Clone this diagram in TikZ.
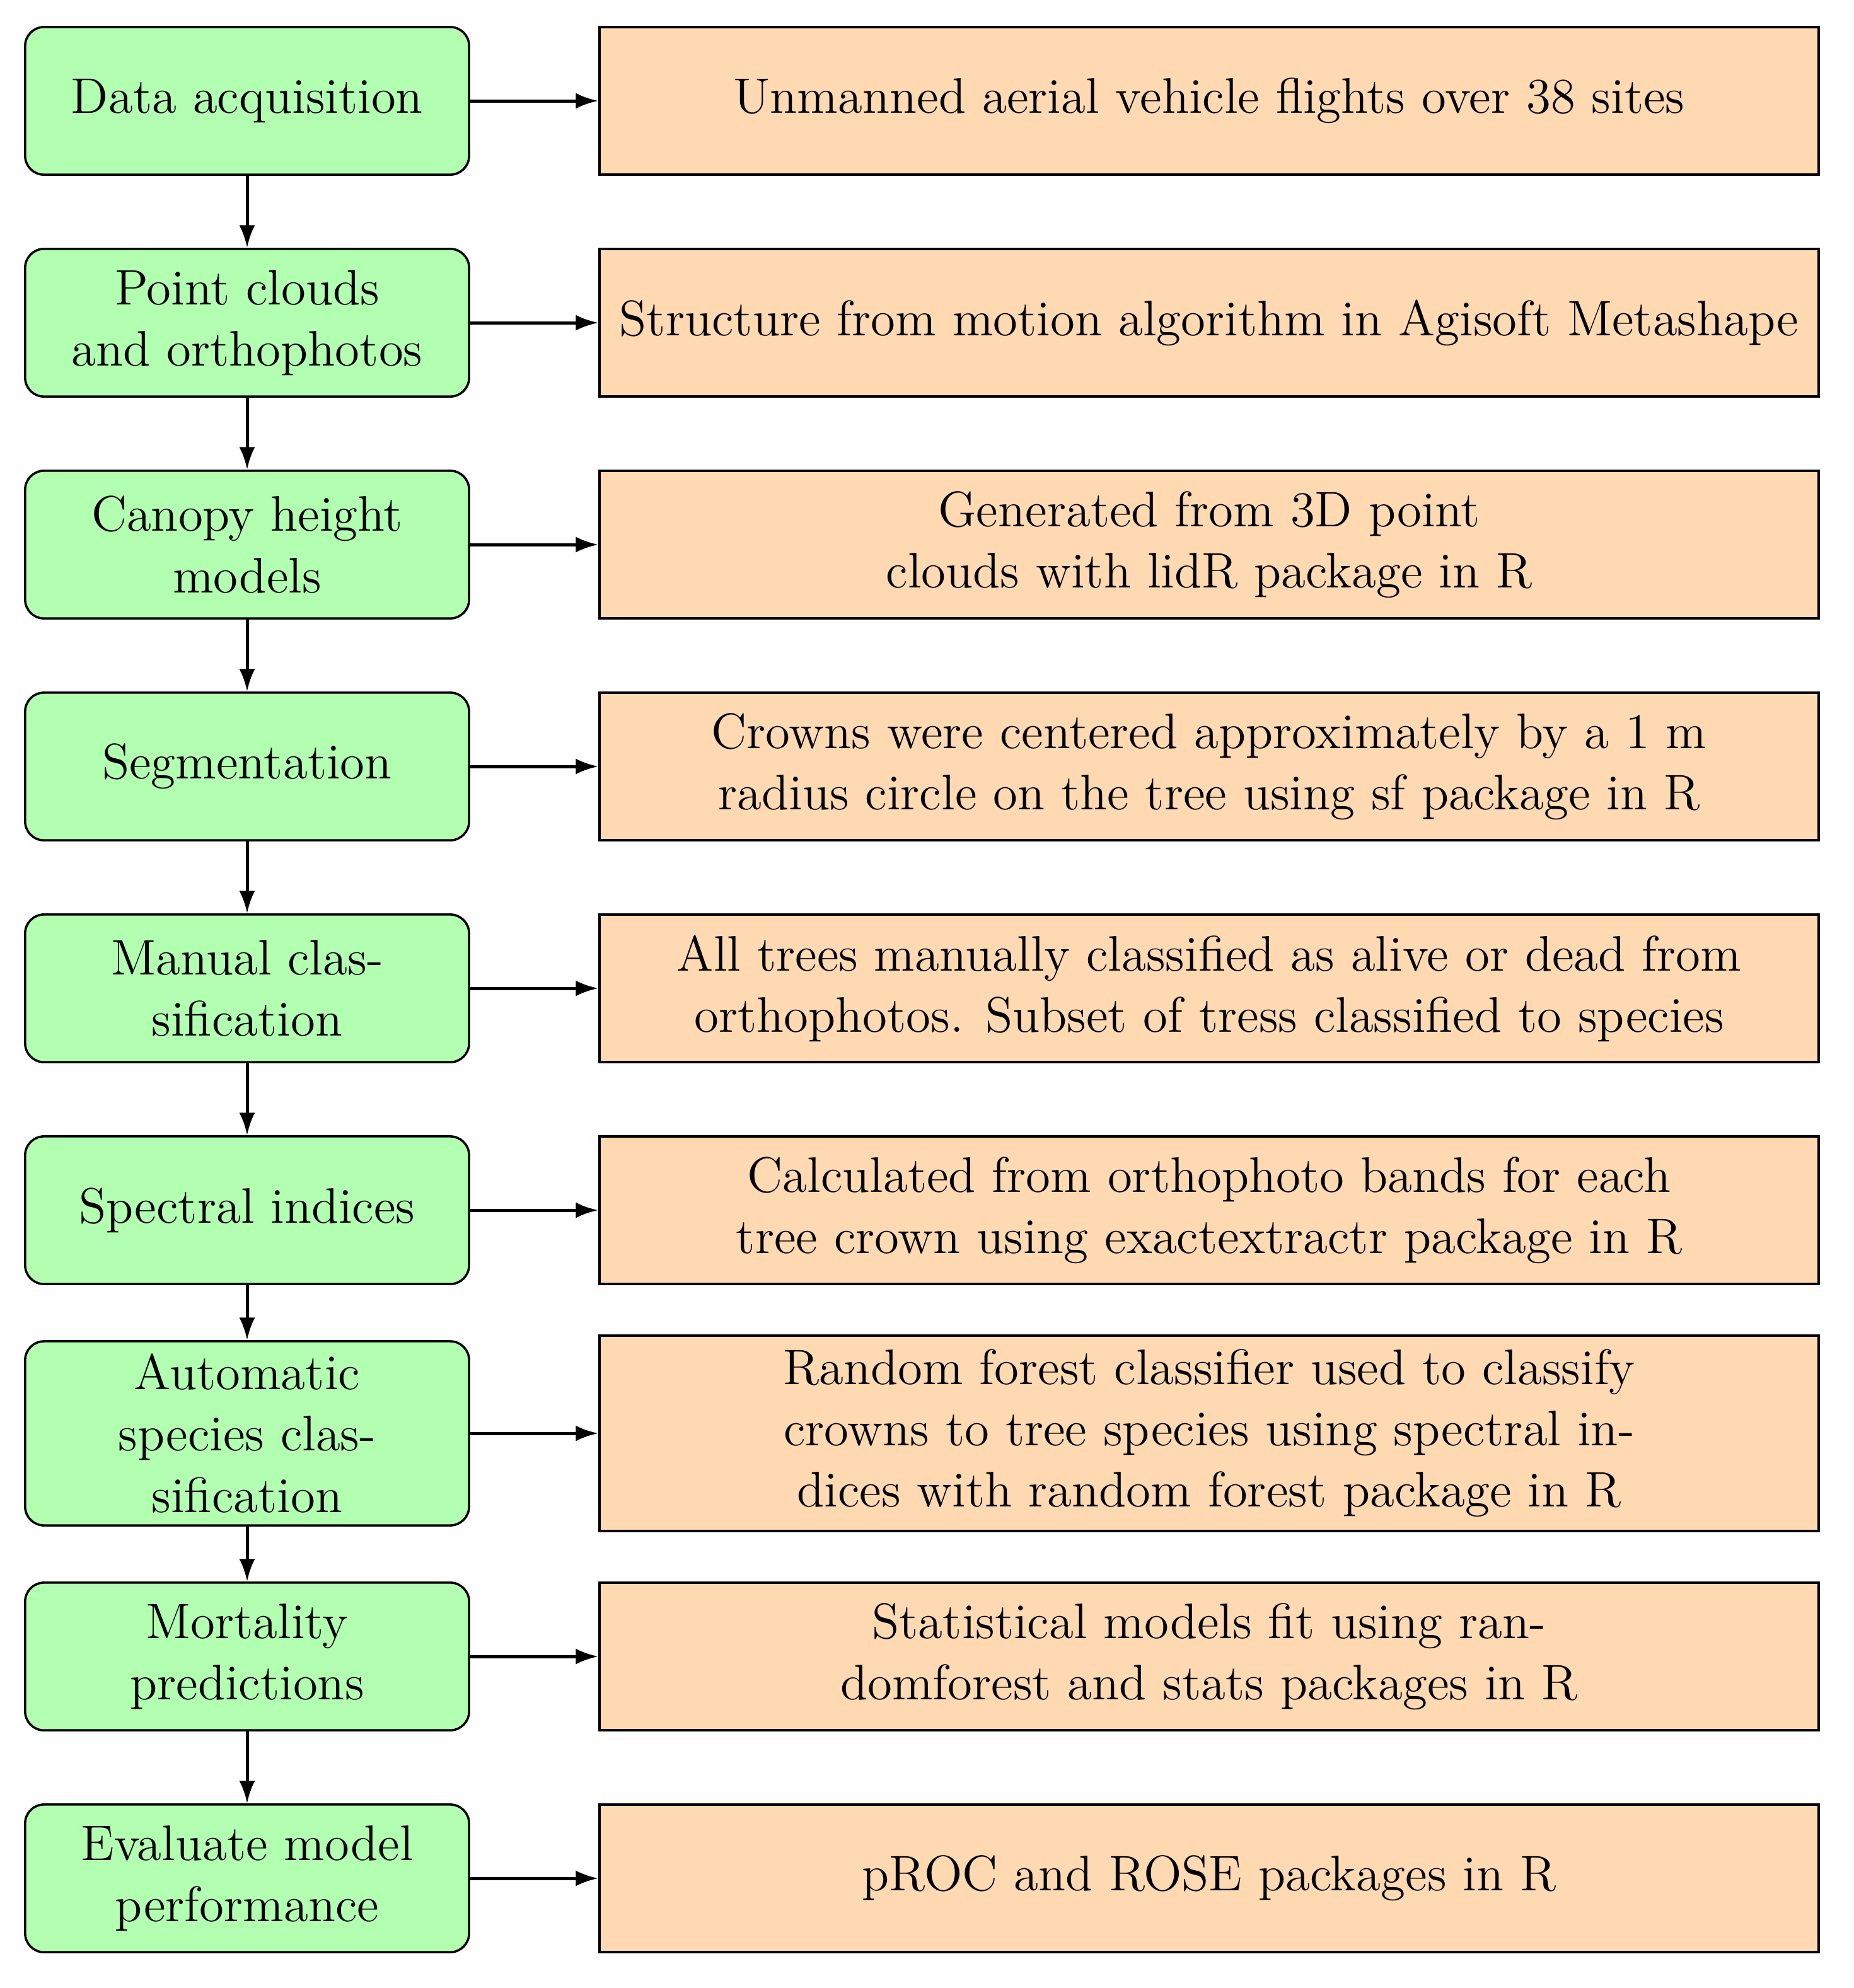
\documentclass[tikz,border=0pt]{standalone}
\usepackage{mathpazo}
\usetikzlibrary{arrows.meta}
\begin{document}
\begin{tikzpicture}[x=0.28pt,y=-0.28pt,
  every node/.style={font=\fontsize{11.1}{13.6}\selectfont},
  L/.style={draw=black,fill=green!30,rounded corners=4.2pt,minimum width=98.6pt,minimum height=32.8pt,align=center,line width=0.5pt,inner sep=1pt},
  R/.style={draw=black,fill=orange!30,minimum width=270.8pt,minimum height=32.8pt,align=center,line width=0.5pt,inner sep=1pt},
  ar/.style={-{Latex[length=5pt,width=3.5pt]},line width=0.7pt}]
\useasboundingbox (0,0) rectangle (1470.5,1577);
\node[L] (l1) at (196,80) {Data acquisition};
\node[L] (l2) at (196,256) {Point clouds\\and orthophotos};
\node[L] (l3) at (196,432) {Canopy height\\models};
\node[L] (l4) at (196,608) {Segmentation};
\node[L] (l5) at (196,784) {Manual clas-\\sification};
\node[L] (l6) at (196,960) {Spectral indices};
\node[L,minimum height=40.9pt] (l7) at (196,1137) {Automatic\\species clas-\\sification};
\node[L] (l8) at (196,1314) {Mortality\\predictions};
\node[L] (l9) at (196,1490) {Evaluate model\\performance};
\node[R] (r1) at (959,80) {Unmanned aerial vehicle flights over 38 sites};
\node[R] (r2) at (959,256) {Structure from motion algorithm in Agisoft Metashape};
\node[R] (r3) at (959,432) {Generated from 3D point\\clouds with lidR package in R};
\node[R] (r4) at (959,608) {Crowns were centered approximately by a 1 m\\radius circle on the tree using sf package in R};
\node[R] (r5) at (959,784) {All trees manually classified as alive or dead from\\orthophotos. Subset of tress classified to species};
\node[R] (r6) at (959,960) {Calculated from orthophoto bands for each\\tree crown using exactextractr package in R};
\node[R,minimum height=43.4pt] (r7) at (959,1137) {Random forest classifier used to classify\\crowns to tree species using spectral in-\\dices with random forest package in R};
\node[R] (r8) at (959,1314) {Statistical models fit using ran-\\domforest and stats packages in R};
\node[R] (r9) at (959,1490) {pROC and ROSE packages in R};
\foreach \i in {1,...,9} {\draw[ar] (l\i) -- (r\i);}
\foreach \i/\j in {1/2,2/3,3/4,4/5,5/6,6/7,7/8,8/9} {\draw[ar] (l\i) -- (l\j);}
\end{tikzpicture}
\end{document}
